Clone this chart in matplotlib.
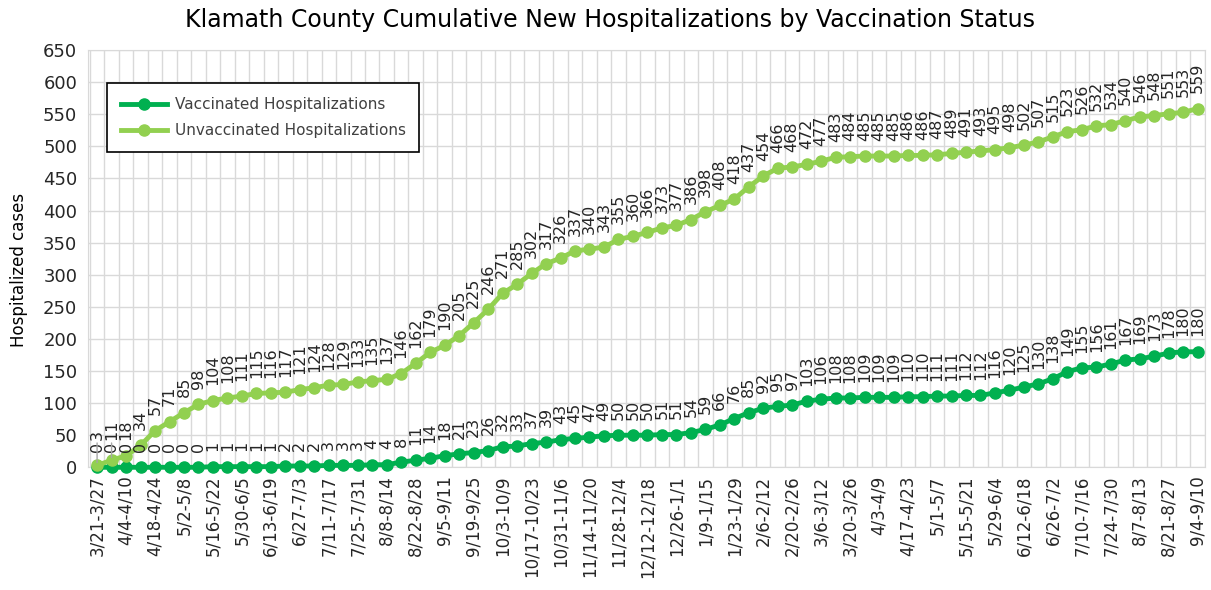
import matplotlib.pyplot as plt
from matplotlib.transforms import offset_copy

week_labels = ['3/21-3/27', '4/4-4/10', '4/18-4/24', '5/2-5/8', '5/16-5/22', '5/30-6/5',
               '6/13-6/19', '6/27-7/3', '7/11-7/17', '7/25-7/31', '8/8-8/14', '8/22-8/28',
               '9/5-9/11', '9/19-9/25', '10/3-10/9', '10/17-10/23', '10/31-11/6', '11/14-11/20',
               '11/28-12/4', '12/12-12/18', '12/26-1/1', '1/9-1/15', '1/23-1/29', '2/6-2/12',
               '2/20-2/26', '3/6-3/12', '3/20-3/26', '4/3-4/9', '4/17-4/23', '5/1-5/7',
               '5/15-5/21', '5/29-6/4', '6/12-6/18', '6/26-7/2', '7/10-7/16', '7/24-7/30',
               '8/7-8/13', '8/21-8/27', '9/4-9/10']

vaccinated = [0, 0, 0, 0, 0, 0, 0, 0, 1, 1, 1, 1, 1, 2, 2, 2, 3, 3, 3, 4, 4, 8, 11, 14, 18,
              21, 23, 26, 32, 33, 37, 39, 43, 45, 47, 49, 50, 50, 50, 51, 51, 54, 59, 66, 76,
              85, 92, 95, 97, 103, 106, 108, 108, 109, 109, 109, 110, 110, 111, 111, 112, 112,
              116, 120, 125, 130, 138, 149, 155, 156, 161, 167, 169, 173, 178, 180, 180]

unvaccinated = [3, 11, 18, 34, 57, 71, 85, 98, 104, 108, 111, 115, 116, 117, 121, 124, 128,
                129, 133, 135, 137, 146, 162, 179, 190, 205, 225, 246, 271, 285, 302, 317, 326,
                337, 340, 343, 355, 360, 366, 373, 377, 386, 398, 408, 418, 437, 454, 466, 468,
                472, 477, 483, 484, 485, 485, 485, 486, 486, 487, 489, 491, 493, 495, 498, 502,
                507, 515, 523, 526, 532, 534, 540, 546, 548, 551, 553, 559]

vac_color = '#00B050'
unvac_color = '#92D050'
grid_color = '#d9d9d9'
text_color = '#262626'
lab_size = 11.5

fig = plt.figure(figsize=(12.11, 5.9), dpi=100)
ax = fig.add_axes([0.073, 0.208, 0.922, 0.707])

x = list(range(len(unvaccinated)))
ax.plot(x, vaccinated, color=vac_color, lw=3.5, marker='o', ms=8,
        label='Vaccinated Hospitalizations', zorder=3, clip_on=False)
ax.plot(x, unvaccinated, color=unvac_color, lw=3.5, marker='o', ms=8,
        label='Unvaccinated Hospitalizations', zorder=3, clip_on=False)

ax.set_xlim(-0.6, len(x) - 0.5)
ax.set_ylim(0, 650)
ax.set_yticks(range(0, 651, 50))
ax.set_xticks(range(0, len(x), 2))
ax.set_xticklabels(week_labels, rotation=90, fontsize=12, color=text_color)
ax.set_xticks([i + 0.5 for i in range(-1, len(x))], minor=True)
ax.tick_params(axis='both', which='both', length=0)
ax.tick_params(axis='y', labelsize=13, labelcolor=text_color, pad=8)
ax.tick_params(axis='x', pad=6)
ax.grid(which='minor', axis='x', color=grid_color, lw=1)
ax.grid(which='major', axis='y', color=grid_color, lw=1)
ax.set_axisbelow(True)
for s in ax.spines.values():
    s.set_color(grid_color)

# data labels
for i, v in enumerate(vaccinated):
    ax.annotate(str(v), (i, v), xytext=(0, 11), textcoords='offset points',
                rotation=90, ha='center', va='bottom', fontsize=lab_size, color=text_color)

for i, v in enumerate(unvaccinated):
    if i < 2:
        # moved labels, stacked above the vaccinated label, with leader line
        tc = offset_copy(ax.transData, fig=fig, x=0, y=19.5, units='points')
        ax.annotate(str(v), (i, v), xytext=(i, vaccinated[i]), textcoords=tc,
                    rotation=90, ha='center', va='bottom', fontsize=lab_size, color=text_color,
                    arrowprops=dict(arrowstyle='-', color='#a6a6a6', lw=1,
                                    shrinkA=0, shrinkB=2))
    else:
        ax.annotate(str(v), (i, v), xytext=(0, 11), textcoords='offset points',
                    rotation=90, ha='center', va='bottom', fontsize=lab_size, color=text_color)

leg = ax.legend(loc='upper left', bbox_to_anchor=(0.017, 0.921), borderaxespad=0,
                fontsize=11, fancybox=False, edgecolor='black', framealpha=1,
                handlelength=3, borderpad=0.9, labelspacing=0.75, handletextpad=0.5)
leg.get_frame().set_linewidth(1.2)
for t in leg.get_texts():
    t.set_color('#404040')

fig.text(0.504, 0.966, 'Klamath County Cumulative New Hospitalizations by Vaccination Status',
         ha='center', va='center', fontsize=17, color='black')
fig.text(0.016, 0.542, 'Hospitalized cases', rotation=90, ha='center', va='center',
         fontsize=12, color='black')

fig.savefig('out.png', dpi=100)
